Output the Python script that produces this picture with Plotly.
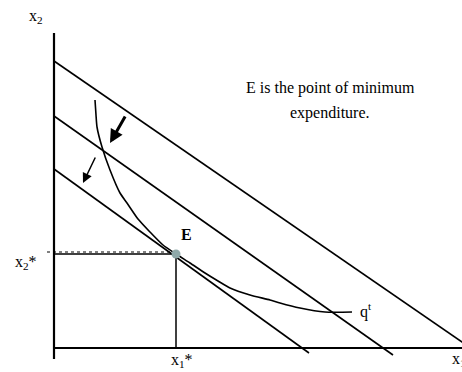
import plotly.graph_objects as go

# ---- data (units: x1 on horizontal axis, x2 on vertical axis) ----
# budget (expenditure) lines: start on x2 axis, end just past the x1 axis
budget_top = {"x": [0.0, 10.45], "y": [7.175, -0.02]}
budget_mid = {"x": [0.0, 8.475], "y": [5.8, -0.175]}
budget_low = {"x": [0.0, 6.375], "y": [4.475, -0.125]}

# indifference curve q^t
curve_x1 = [1.025, 1.05, 1.075, 1.2, 1.4, 1.65, 1.825, 2.1, 2.4, 2.725, 3.05,
            3.4, 3.775, 4.1, 4.4, 4.9, 5.4, 5.65, 6.15, 6.775, 7.45]
curve_x2 = [6.2, 5.825, 5.525, 5.025, 4.45, 3.875, 3.625, 3.225, 2.9, 2.575, 2.35,
            2.125, 1.875, 1.675, 1.5, 1.325, 1.2, 1.125, 1.0, 0.9, 0.9]

# point of minimum expenditure E
E_x1 = 3.05
E_x2 = 2.35

# axes extents
yaxis_line = {"x": [0.0, 0.0], "y": [-0.275, 7.875]}
xaxis_line = {"x": [0.0, 10.3], "y": [0.0, 0.0]}

# arrows (tail -> head)
arrow_thick = {"tail": (1.8, 5.825), "head": (1.4, 5.125)}
arrow_thin = {"tail": (1.05, 4.8), "head": (0.725, 4.125)}

note_lines = ["E is the point of minimum", "expenditure."]

LINE = "black"
FONT = "Liberation Serif"

fig = go.Figure()

def seg(d, w=1.6, dash=None):
    fig.add_trace(go.Scatter(x=d["x"], y=d["y"], mode="lines",
                             line=dict(color=LINE, width=w, dash=dash),
                             hoverinfo="skip", showlegend=False))

seg(yaxis_line, 2.2)
seg(xaxis_line, 2.2)
seg(budget_top)
seg(budget_mid)
seg(budget_low)

# guide lines to E
seg({"x": [-0.175, E_x1], "y": [E_x2 + 0.05, E_x2 + 0.05]}, 1, "dot")
seg({"x": [0.0, E_x1], "y": [E_x2, E_x2]}, 1.5)
seg({"x": [E_x1, E_x1], "y": [E_x2, -0.02]}, 1.5)

# curve
fig.add_trace(go.Scatter(x=curve_x1, y=curve_x2, mode="lines",
                         line=dict(color=LINE, width=1.6, shape="spline", smoothing=0.6),
                         hoverinfo="skip", showlegend=False))

# E point
fig.add_trace(go.Scatter(x=[E_x1], y=[E_x2], mode="markers",
                         marker=dict(size=9, color="#8fa9a9"),
                         hoverinfo="skip", showlegend=False))

ann = []
for a, w, s in [(arrow_thick, 3, 0.9), (arrow_thin, 1.5, 1.3)]:
    ann.append(dict(x=a["head"][0], y=a["head"][1], ax=a["tail"][0], ay=a["tail"][1],
                    xref="x", yref="y", axref="x", ayref="y", text="",
                    showarrow=True, arrowhead=2, arrowsize=s, arrowwidth=w,
                    arrowcolor=LINE))

def txt(x, y, t, size=16, xanchor="center", yanchor="middle"):
    ann.append(dict(x=x, y=y, xref="x", yref="y", text=t, showarrow=False,
                    font=dict(family=FONT, size=size, color="black"),
                    xanchor=xanchor, yanchor=yanchor))

txt(-0.45, 8.3, "x<sub>2</sub>")
txt(-0.7, 2.15, "x<sub>2</sub>*")
txt(3.2, -0.3, "x<sub>1</sub>*")
txt(9.9, -0.28, "x<sub>1</sub>", xanchor="left")
txt(3.3, 2.85, "<b>E</b>")
txt(7.6, 0.95, "q<sup>t</sup>", xanchor="left")
txt(6.9, 6.5, note_lines[0])
txt(6.9, 5.875, note_lines[1])

fig.update_layout(
    width=462, height=372,
    margin=dict(l=0, r=0, t=0, b=0),
    paper_bgcolor="white", plot_bgcolor="white",
    xaxis=dict(range=[-1.35, 10.2], visible=False, fixedrange=True),
    yaxis=dict(range=[-0.6, 8.7], visible=False, fixedrange=True),
    annotations=ann,
    showlegend=False,
)

fig.write_html("out.html",
               config={"displayModeBar": False, "staticPlot": True},
               post_script="document.body.style.margin='0';document.body.style.overflow='hidden';")
